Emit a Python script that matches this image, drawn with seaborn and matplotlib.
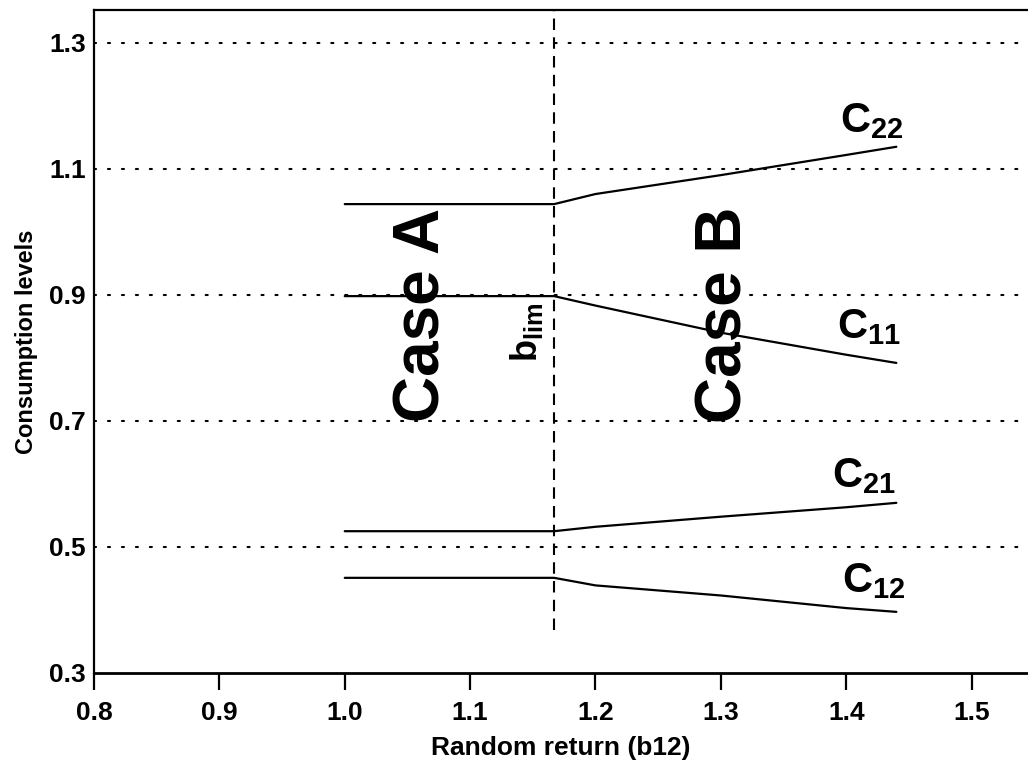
import matplotlib
matplotlib.use("Agg")
import matplotlib.pyplot as plt
import seaborn as sns
import pandas as pd

# ---- data ----
x_vals = [1.0, 1.167, 1.2, 1.3, 1.4, 1.44]
c22 = [1.044, 1.044, 1.060, 1.090, 1.122, 1.135]
c11 = [0.898, 0.898, 0.883, 0.840, 0.805, 0.792]
c21 = [0.525, 0.525, 0.532, 0.548, 0.563, 0.570]
c12 = [0.451, 0.451, 0.439, 0.423, 0.403, 0.397]
series_names = ["C22", "C11", "C21", "C12"]
series_labels = [r"$C_{22}$", r"$C_{11}$", r"$C_{21}$", r"$C_{12}$"]
label_pos_x = [1.395, 1.393, 1.389, 1.397]
label_pos_y = [1.159, 0.832, 0.595, 0.429]
b_lim = 1.167
b_lim_bottom = 0.368
x_ticks = [0.8, 0.9, 1.0, 1.1, 1.2, 1.3, 1.4, 1.5]
y_ticks = [0.3, 0.5, 0.7, 0.9, 1.1, 1.3]
grid_levels = [0.5, 0.7, 0.9, 1.1, 1.3]

rows = []
for name, vals in zip(series_names, [c22, c11, c21, c12]):
    for xv, yv in zip(x_vals, vals):
        rows.append({"x": xv, "y": yv, "series": name})
df = pd.DataFrame(rows)

sns.set_theme(style="white")
plt.rcParams["font.family"] = ["Liberation Sans", "DejaVu Sans"]
plt.rcParams["font.weight"] = "bold"
plt.rcParams["text.color"] = "black"
plt.rcParams["axes.labelcolor"] = "black"
plt.rcParams["xtick.color"] = "black"
plt.rcParams["ytick.color"] = "black"
plt.rcParams["mathtext.fontset"] = "custom"
plt.rcParams["mathtext.rm"] = "Liberation Sans:bold"
plt.rcParams["mathtext.it"] = "Liberation Sans:bold"
plt.rcParams["mathtext.bf"] = "Liberation Sans:bold"

fig = plt.figure(figsize=(10.28, 7.73), dpi=100)
ax = fig.add_axes([94 / 1028, 100 / 773, 1 - 94 / 1028, 663 / 773])

# dotted horizontal grid
for g in grid_levels:
    ax.axhline(g, color="black", lw=1.5, linestyle=(0, (1, 5.7)),
               dash_capstyle="round", zorder=1)

sns.lineplot(data=df, x="x", y="y", hue="series", units="series",
             estimator=None, palette=["black"] * 4, legend=False,
             lw=1.6, ax=ax, zorder=3)

# vertical dashed line at b_lim
ax.plot([b_lim, b_lim], [b_lim_bottom, 1.36], color="black", lw=1.5,
        linestyle=(0, (5.5, 3.5)), zorder=2, clip_on=True)

ax.set_xlim(0.8, 1.545)
ax.set_ylim(0.3, 1.352)
ax.set_xticks(x_ticks)
ax.set_xticklabels([f"{t:.1f}" for t in x_ticks])
ax.set_yticks(y_ticks)
ax.set_yticklabels([f"{t:.1f}" for t in y_ticks])
ax.tick_params(axis="x", direction="out", length=12, width=1.6,
               labelsize=19, pad=8, color="black", labelcolor="black",
               bottom=True)
ax.tick_params(axis="y", length=0, labelsize=19, pad=6, left=False,
               labelcolor="black")
for lab in ax.get_xticklabels() + ax.get_yticklabels():
    lab.set_fontweight("bold")

ax.set_xlabel("Random return (b12)", fontsize=19, fontweight="bold",
              labelpad=8, color="black")
ax.set_ylabel("Consumption levels", fontsize=17, fontweight="bold",
              labelpad=8, color="black")

for side in ["left", "top", "bottom"]:
    ax.spines[side].set_visible(True)
    ax.spines[side].set_color("black")
ax.spines["left"].set_linewidth(1.6)
ax.spines["top"].set_linewidth(1.6)
ax.spines["bottom"].set_linewidth(2.0)
ax.spines["right"].set_visible(False)

# annotations
ax.text(1.062, 0.868, "Case A", rotation=90, ha="center", va="center",
        fontsize=46, fontweight="bold", color="black")
ax.text(1.303, 0.868, "Case B", rotation=90, ha="center", va="center",
        fontsize=46, fontweight="bold", color="black")
ax.text(1.145, 0.841, r"$b_{lim}$", rotation=90, ha="center", va="center",
        fontsize=26, color="black")
for lab, lx, ly in zip(series_labels, label_pos_x, label_pos_y):
    ax.text(lx, ly, lab, ha="left", va="baseline", fontsize=30, color="black")

fig.savefig("out.png", dpi=100)
